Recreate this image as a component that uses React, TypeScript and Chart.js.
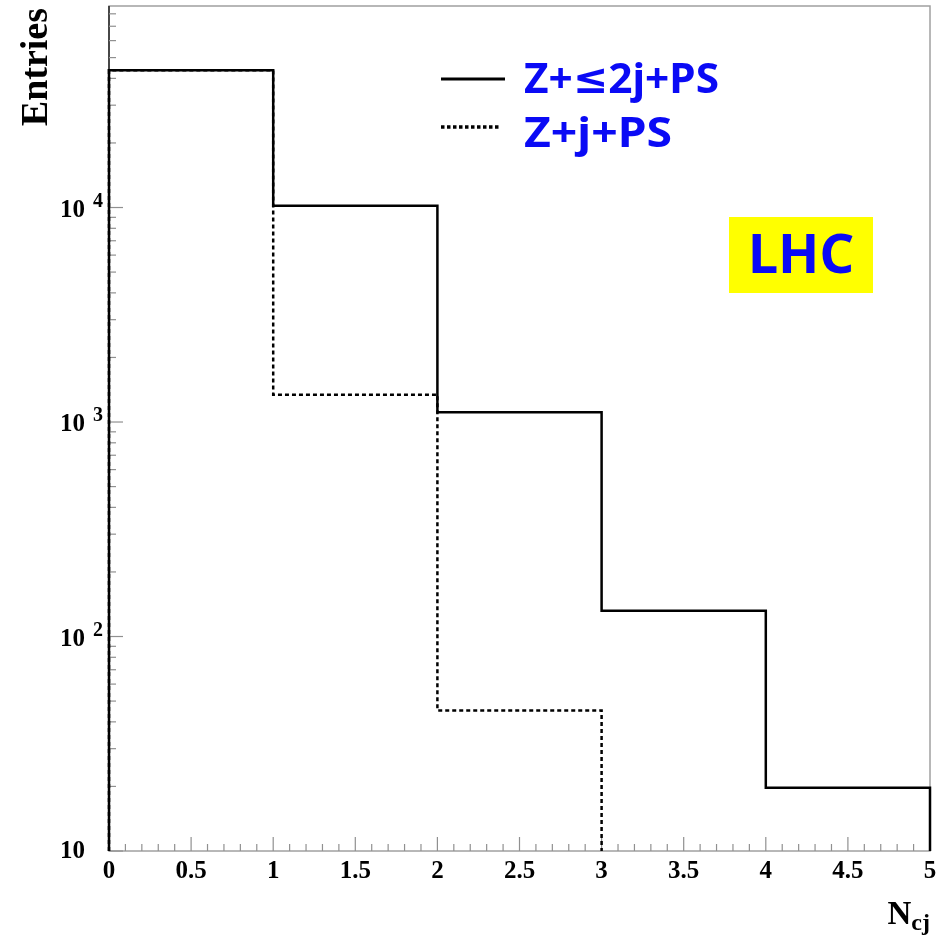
import React, { useEffect, useRef } from "react";
import { Chart, registerables } from "chart.js";

Chart.register(...registerables);

// ---- data ----
const binEdges = [0, 1, 2, 3, 4, 5];
const solidValues = [43600, 10200, 1110, 132, 19.7]; // Z+<=2j+PS
const dottedValues = [43600, 1340, 45.2, 0, 0]; // Z+j+PS
const seriesLabels = ["Z+\u22642j+PS", "Z+j+PS"];
const xTickLabels = ["0", "0.5", "1", "1.5", "2", "2.5", "3", "3.5", "4", "4.5", "5"];
const xTickValues = [0, 0.5, 1, 1.5, 2, 2.5, 3, 3.5, 4, 4.5, 5];
const yDecades = [10, 100, 1000, 10000];
const yExponents = ["", "2", "3", "4"];
const yMin = 10;
const yMax = 87000;
const xMin = 0;
const xMax = 5;

function histPoints(values: number[]) {
  // trim trailing zeros
  let n = values.length;
  while (n > 0 && values[n - 1] <= 0) n--;
  const pts: { x: number; y: number }[] = [];
  pts.push({ x: binEdges[0], y: yMin });
  for (let i = 0; i < n; i++) {
    pts.push({ x: binEdges[i], y: values[i] > yMin ? values[i] : yMin });
  }
  pts.push({ x: binEdges[n], y: yMin });
  return pts;
}

const SERIF = '"Liberation Serif", "Times New Roman", serif';
const SANS = '"Noto Sans", "DejaVu Sans", sans-serif';

const decorPlugin = {
  id: "decor",
  beforeDatasetsDraw(chart: any) {
    const { ctx, chartArea } = chart;
    const xs = chart.scales.x;
    const ys = chart.scales.y;
    const { left, right, top, bottom } = chartArea;
    ctx.save();
    // frame
    ctx.strokeStyle = "#a0a0a0";
    ctx.lineWidth = 1.5;
    ctx.strokeRect(left, top, right - left, bottom - top);
    ctx.strokeStyle = "#222";
    ctx.beginPath();
    ctx.moveTo(left, top);
    ctx.lineTo(left, bottom);
    ctx.stroke();

    // x ticks (inside)
    ctx.strokeStyle = "#909090";
    ctx.lineWidth = 1.2;
    for (let i = 0; i <= 50; i++) {
      const v = i / 10;
      const px = xs.getPixelForValue(v);
      const len = i % 5 === 0 ? 14 : 7;
      ctx.beginPath();
      ctx.moveTo(px, bottom);
      ctx.lineTo(px, bottom - len);
      ctx.stroke();
    }
    // y ticks (inside)
    for (const d of yDecades) {
      for (let m = 1; m <= 9; m++) {
        const v = d * m;
        if (v < yMin || v > yMax) continue;
        const py = ys.getPixelForValue(v);
        const len = m === 1 ? 14 : 7;
        ctx.beginPath();
        ctx.moveTo(left, py);
        ctx.lineTo(left + len, py);
        ctx.stroke();
      }
    }
    ctx.restore();
  },
  afterDraw(chart: any) {
    const { ctx, chartArea } = chart;
    const xs = chart.scales.x;
    const ys = chart.scales.y;
    const { left, right, bottom } = chartArea;
    ctx.save();
    ctx.fillStyle = "#000";
    // x tick labels
    ctx.font = `bold 25px ${SERIF}`;
    ctx.textAlign = "center";
    ctx.textBaseline = "alphabetic";
    xTickValues.forEach((v, i) => {
      ctx.fillText(xTickLabels[i], xs.getPixelForValue(v), bottom + 27);
    });
    // y tick labels
    yDecades.forEach((d, i) => {
      const py = ys.getPixelForValue(d);
      ctx.font = `bold 25px ${SERIF}`;
      ctx.textAlign = "right";
      ctx.fillText("10", left - 24, py + (i === 0 ? 7 : 9));
      if (yExponents[i]) {
        ctx.font = `bold 20px ${SERIF}`;
        ctx.textAlign = "left";
        ctx.fillText(yExponents[i], left - 16, py - 1);
      }
    });
    // y title
    ctx.save();
    ctx.translate(47, 8);
    ctx.rotate(-Math.PI / 2);
    ctx.font = `bold 38px ${SERIF}`;
    ctx.textAlign = "right";
    ctx.fillText("Entries", 0, 0);
    ctx.restore();
    // x title N_cj
    ctx.textAlign = "left";
    ctx.font = `bold 24px ${SERIF}`;
    const wcj = ctx.measureText("cj").width;
    ctx.font = `bold 33px ${SERIF}`;
    const wN = ctx.measureText("N").width;
    ctx.fillText("N", right - wcj - wN, 924);
    ctx.font = `bold 24px ${SERIF}`;
    ctx.fillText("cj", right - wcj, 930);

    // legend
    ctx.strokeStyle = "#000";
    ctx.lineWidth = 3;
    ctx.beginPath();
    ctx.moveTo(441, 79);
    ctx.lineTo(505, 79);
    ctx.stroke();
    ctx.lineWidth = 3.5;
    ctx.setLineDash([3.5, 2.5]);
    ctx.beginPath();
    ctx.moveTo(441, 127);
    ctx.lineTo(501, 127);
    ctx.stroke();
    ctx.setLineDash([]);
    ctx.fillStyle = "#0a0af5";
    ctx.font = `bold 42px ${SANS}`;
    const targetW = [195, 148];
    const baselines = [93, 147];
    seriesLabels.forEach((t, i) => {
      const w = ctx.measureText(t).width;
      ctx.save();
      ctx.translate(524, baselines[i]);
      ctx.scale(targetW[i] / w, 1);
      ctx.fillText(t, 0, 0);
      ctx.restore();
    });

    // LHC box
    ctx.fillStyle = "#ffff00";
    ctx.fillRect(729, 217, 144, 76);
    ctx.fillStyle = "#0a0af5";
    ctx.font = `bold 54px ${SANS}`;
    ctx.textAlign = "center";
    ctx.fillText("LHC", 801, 273);
    ctx.restore();
  },
};

export default function App() {
  const ref = useRef<HTMLCanvasElement | null>(null);
  useEffect(() => {
    if (!ref.current) return;
    const chart = new Chart(ref.current, {
      type: "line",
      data: {
        datasets: [
          {
            label: seriesLabels[0],
            data: histPoints(solidValues),
            borderColor: "#000",
            borderWidth: 2.5,
            stepped: "before",
            pointRadius: 0,
            fill: false,
            clip: false as any,
          },
          {
            label: seriesLabels[1],
            data: histPoints(dottedValues),
            borderColor: "#000",
            borderWidth: 2.5,
            borderDash: [4, 3],
            stepped: "before",
            pointRadius: 0,
            fill: false,
            clip: false as any,
          },
        ],
      },
      options: {
        animation: false,
        responsive: false,
        maintainAspectRatio: false,
        events: [],
        layout: { padding: { left: 109, right: 19, top: 6, bottom: 91 } },
        plugins: { legend: { display: false }, tooltip: { enabled: false } },
        scales: {
          x: { type: "linear", min: xMin, max: xMax, display: false },
          y: { type: "logarithmic", min: yMin, max: yMax, display: false },
        },
      },
      plugins: [decorPlugin],
    });
    return () => chart.destroy();
  }, []);
  return (
    <div style={{ position: "absolute", left: 0, top: 0, width: 949, height: 942, background: "#fff" }}>
      <canvas ref={ref} width={949} height={942} style={{ display: "block", width: 949, height: 942 }} />
    </div>
  );
}
